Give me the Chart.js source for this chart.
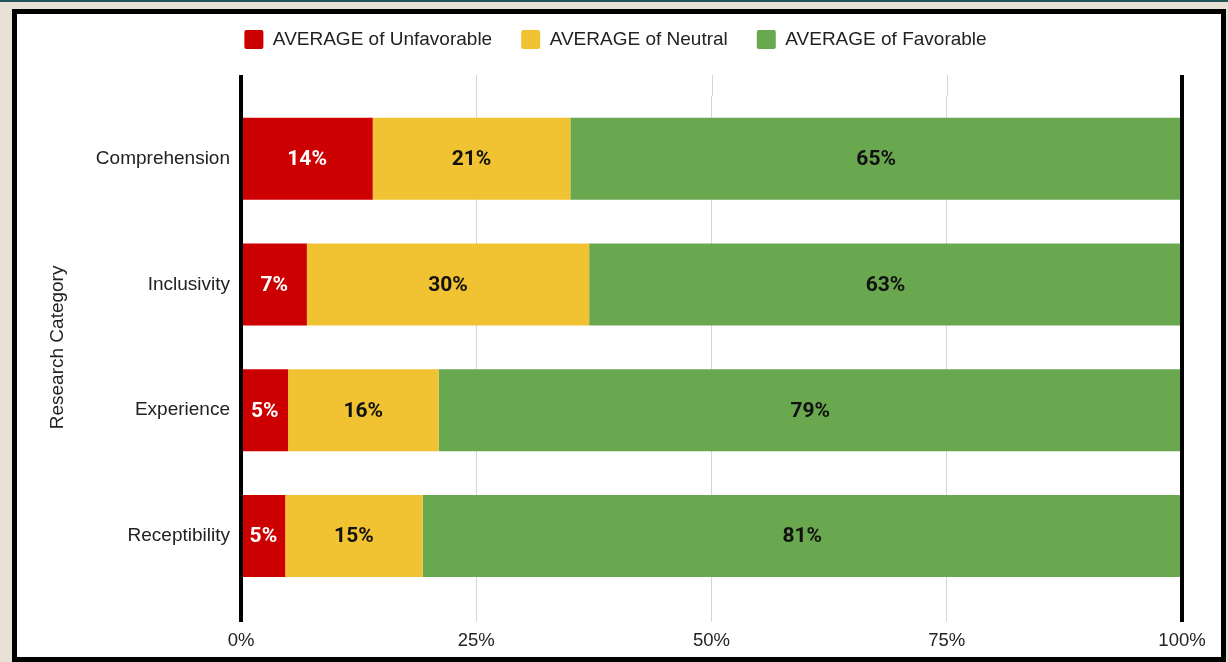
<!DOCTYPE html>
<html>
<head>
<meta charset="utf-8">
<script src="https://cdn.jsdelivr.net/npm/chart.js@4.4.1/dist/chart.umd.min.js"></script>
<style>
  html, body { margin: 0; padding: 0; width: 1228px; height: 662px; overflow: hidden; background: #e9e0d6; }
  #topbar { position: absolute; left: 0; top: 0; width: 1228px; height: 2px; background: #21575a; }
  #card { position: absolute; left: 12px; top: 9px; width: 1214px; height: 653px; box-sizing: border-box; border: 5px solid #000; background: #fff; }
  #card canvas { position: absolute; left: 0; top: 0; }
</style>
</head>
<body>
<div id="topbar"></div>
<div id="card"><canvas id="surveyChart" width="1204" height="643"></canvas></div>
<script>
const categories = ['Comprehension', 'Inclusivity', 'Experience', 'Receptibility']
const unfavorable = [14, 7, 5, 4.7]
const neutral = [21, 30, 16, 14.6]
const favorable = [65, 63, 79, 80.7]
const xTicks = [0, 25, 50, 75, 100]

const seriesNames = ['AVERAGE of Unfavorable', 'AVERAGE of Neutral', 'AVERAGE of Favorable']
const seriesColors = ['#cc0000', '#f1c232', '#6aa84f']
const labelColors = ['#ffffff', '#111111', '#111111']

const textFont = 'Liberation Sans, Arial, sans-serif'
const axisTop = 61
const axisBottom = 608

// push the plot area down below the legend, and centre the legend over the whole card
const legendPlace = {
  id: 'legendPlace',
  beforeInit(chart) {
    const fit = chart.legend.fit
    chart.legend.fit = function () {
      fit.bind(chart.legend)()
      this.height += 37
    }
  },
  afterLayout(chart) {
    chart.legend.left += 16
    chart.legend.right += 16
  }
}

// light grid lines run a bit above the plot area
const gridTop = {
  id: 'gridTop',
  beforeDatasetsDraw(chart) {
    const {ctx, chartArea, scales: {x}} = chart
    ctx.save()
    ctx.strokeStyle = '#d6d6d6'
    ctx.lineWidth = 1
    xTicks.slice(1, -1).forEach(v => {
      const px = Math.round(x.getPixelForValue(v)) + 0.5
      ctx.beginPath()
      ctx.moveTo(px, axisTop)
      ctx.lineTo(px, chartArea.top)
      ctx.stroke()
    })
    ctx.restore()
  }
}

// heavy black rules at 0% and 100%, plus the percentage labels in each segment
const barExtras = {
  id: 'barExtras',
  afterDatasetsDraw(chart) {
    const {ctx, scales: {x}} = chart
    ctx.save()
    ctx.textAlign = 'center'
    ctx.textBaseline = 'middle'
    ctx.font = 'bold 21px Roboto, sans-serif'
    chart.data.datasets.forEach((ds, i) => {
      const meta = chart.getDatasetMeta(i)
      meta.data.forEach((bar, j) => {
        const cx = (bar.x + bar.base) / 2
        ctx.fillStyle = labelColors[i]
        ctx.fillText(Math.round(ds.data[j]) + '%', cx, bar.y + 1)
      })
    })
    ctx.strokeStyle = '#000'
    ctx.lineWidth = 4
    ;[0, 100].forEach(v => {
      const px = x.getPixelForValue(v)
      ctx.beginPath()
      ctx.moveTo(px, axisTop)
      ctx.lineTo(px, axisBottom)
      ctx.stroke()
    })
    ctx.restore()
  }
}

const data = {
  labels: categories,
  datasets: [unfavorable, neutral, favorable].map((values, i) => ({
    label: seriesNames[i],
    data: values,
    backgroundColor: seriesColors[i],
    borderWidth: 0,
    barPercentage: 0.652,
    categoryPercentage: 1
  }))
}

const config = {
  type: 'bar',
  data: data,
  options: {
    indexAxis: 'y',
    responsive: false,
    animation: false,
    layout: {padding: {top: -13, bottom: -3, left: 0, right: 39}},
    scales: {
      x: {
        stacked: true, min: 0, max: 100,
        afterBuildTicks(scale) { scale.ticks = xTicks.map(v => ({value: v})) },
        ticks: {color: '#222', font: {family: textFont, size: 18.5}, padding: 8, callback: v => v + '%'},
        grid: {color: '#d6d6d6', tickColor: '#d6d6d6', tickLength: 23, drawTicks: true},
        border: {display: false}
      },
      y: {
        stacked: true,
        afterFit(scale) { scale.width = 224 },
        ticks: {color: '#222', font: {family: textFont, size: 19}, padding: 11},
        grid: {display: false, drawTicks: false, tickLength: 0},
        border: {display: false},
        title: {display: true, text: 'Research Category', color: '#222', font: {family: textFont, size: 19}, padding: {top: 29, bottom: 0}}
      }
    },
    plugins: {
      legend: {
        position: 'top',
        labels: {
          color: '#222', font: {family: textFont, size: 19},
          boxWidth: 19, boxHeight: 19, padding: 29,
          useBorderRadius: true, borderRadius: 2
        }
      },
      tooltip: {enabled: false}
    }
  },
  plugins: [legendPlace, gridTop, barExtras]
}

new Chart(document.getElementById('surveyChart'), config)
</script>
</body>
</html>
